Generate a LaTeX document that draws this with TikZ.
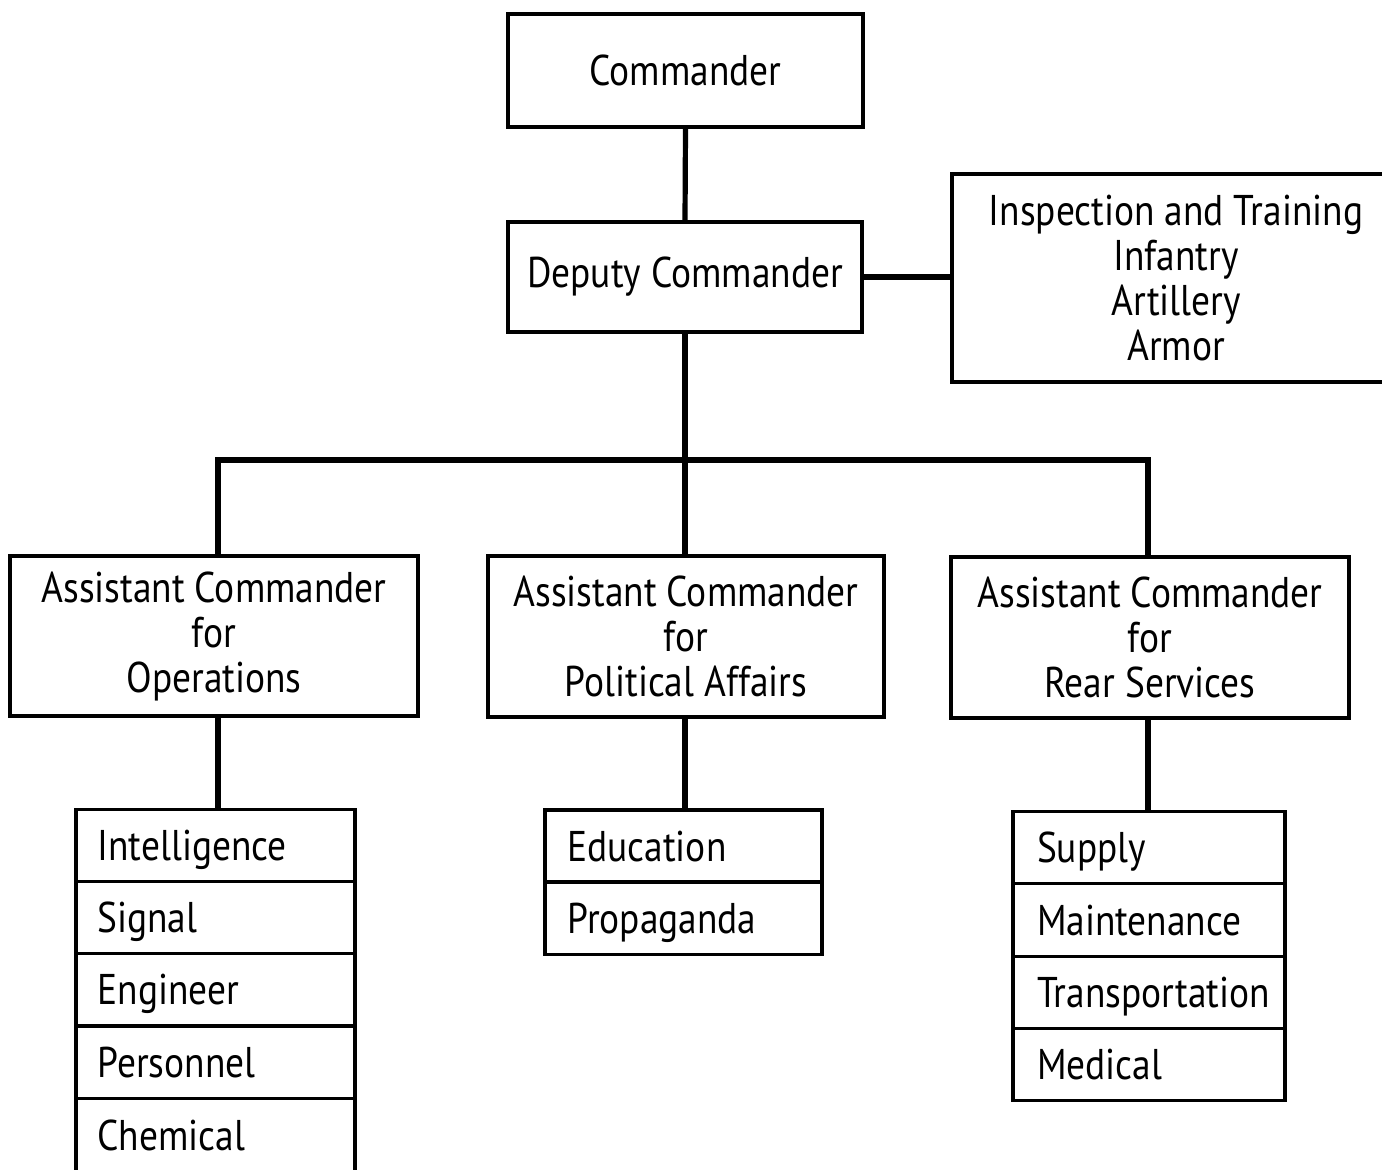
\documentclass[tikz,border=0pt]{standalone}
\usepackage{fontspec}
\setmainfont[FakeStretch=0.87]{PT Sans}
\begin{document}
\begin{tikzpicture}[x=0.5pt,y=-0.5pt,
  box/.style={draw, line width=1.6pt, align=center, inner sep=0pt, font=\fontsize{21.5}{22.5}\selectfont},
  row/.style={draw, line width=1.6pt, inner sep=0pt, anchor=center, text height=15pt, text depth=0pt, font=\fontsize{21.5}{22.5}\selectfont},
  link/.style={line width=2.6pt}]
\useasboundingbox (0,0) rectangle (1382,1170);
\clip (0,0) rectangle (1382,1170);
\fill[white] (0,0) rectangle (1382,1170);
% top boxes
\node[box, minimum width=177.5pt, minimum height=56.5pt] (cmd) at (685.5,70.5) {Commander};
\node[box, minimum width=177pt, minimum height=55pt] (dep) at (685,277) {Deputy Commander};
\node[box, minimum width=224pt, minimum height=104pt] (insp) at (1176,278) {Inspection and Training\\Infantry\\Artillery\\Armor};
% assistant commanders
\node[box, minimum width=204pt, minimum height=80pt] (ops) at (214,636) {Assistant Commander\\for\\Operations};
\node[box, minimum width=198pt, minimum height=80.5pt] (pol) at (686,636.5) {Assistant Commander\\for\\Political Affairs};
\node[box, minimum width=199pt, minimum height=80.5pt] (rear) at (1150,637.5) {Assistant Commander\\for\\Rear Services};
% operations list
\tikzset{opsrow/.style={row, minimum width=139.5pt, minimum height=36.25pt, text width=118pt, align=left}}
\node[opsrow] (int) at (215.5,845.5) {Intelligence};
\node[opsrow] (sig) at (215.5,917.5) {Signal};
\node[opsrow] (eng) at (215.5,989.5) {Engineer};
\node[opsrow] (per) at (215.5,1062.5) {Personnel};
\node[opsrow] (che) at (215.5,1135) {Chemical};
% political list
\tikzset{polrow/.style={row, minimum width=138.5pt, minimum height=36pt, text width=116pt, align=left}}
\node[polrow] (edu) at (683.5,846) {Education};
\node[polrow] (pro) at (683.5,918.5) {Propaganda};
% rear list
\tikzset{rearrow/.style={row, minimum width=136pt, minimum height=36.25pt, text width=112pt, align=left}}
\node[rearrow] (sup) at (1149,847.5) {Supply};
\node[rearrow] (mai) at (1149,920) {Maintenance};
\node[rearrow] (tra) at (1149,992.5) {Transportation};
\node[rearrow] (med) at (1149,1064.5) {Medical};
% bus coordinates
\coordinate (busL) at (218,460);
\coordinate (busM) at (685,460);
\coordinate (busR) at (1148,460);
% connectors
\draw[link] (cmd.south) -- (dep.north);
\draw[link] (dep.east) -- (dep.east -| insp.west);
\draw[link] (dep.south) -- (busM |- pol.north);
\draw[link, line cap=rect] (busL) -- (busR);
\draw[link] (busL) -- (busL |- ops.north);
\draw[link] (busR) -- (busR |- rear.north);
\draw[link] (busL |- ops.south) -- (busL |- int.north);
\draw[link] (busM |- pol.south) -- (busM |- edu.north);
\draw[link] (busR |- rear.south) -- (busR |- sup.north);
\end{tikzpicture}
\end{document}
